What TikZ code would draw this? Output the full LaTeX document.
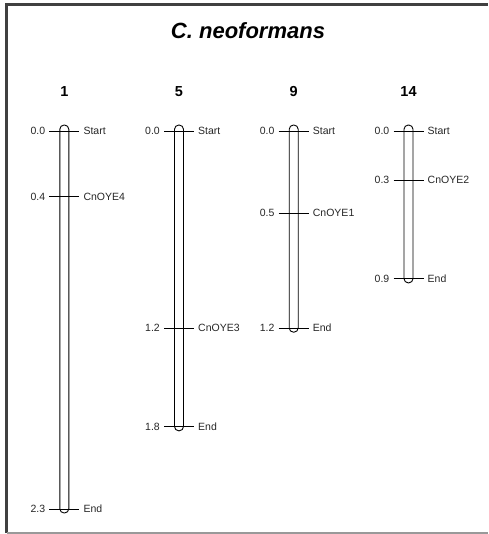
\documentclass[tikz,border=0pt]{standalone}
\usepackage{fontspec}
\setmainfont{Liberation Sans}
\begin{document}
\begin{tikzpicture}[x=1pt,y=-1pt,
  lbl/.style={inner sep=0pt,font=\fontsize{10.5}{12}\selectfont,text=black!85},
  hdr/.style={inner sep=0pt,font=\fontsize{14.5}{16}\selectfont\bfseries},
  bar/.style={draw=black,line width=0.9pt,rounded corners=4.3pt},
  tick/.style={draw=black,line width=0.9pt}]
\useasboundingbox (0,0) rectangle (488,534);
\draw[draw=black!75,line width=2.2pt] (6.5,533) -- (6.5,4.5) -- (488,4.5);
\draw[draw=black!40,line width=2pt] (6.5,532.5) -- (488,532.5);
\node[inner sep=0pt,font=\fontsize{22}{24}\selectfont\bfseries\itshape] (title) at (248,31) {C. neoformans};
% scale: 164.35 px per unit, 0 at y=131
\def\yy#1{131+164.35*#1}
\foreach \cx/\cn/\len/\endlab [count=\i] in {64.3/1/2.3/2.3, 179/5/1.8/1.8, 293.7/9/1.2/1.2, 408.5/14/0.9/0.9}{
  \node[hdr] (h\i) at (\cx,92) {\cn};
  \draw[bar] (\cx-4.5,125) rectangle (\cx+4.5,{\yy{\len}+4});
  \coordinate (s\i l) at (\cx-15,131);
  \coordinate (s\i r) at (\cx+15,131);
  \draw[tick] (s\i l) -- (s\i r);
  \node[lbl,anchor=east] (sp\i) at (\cx-19,131) {0.0};
  \node[lbl,anchor=west] (sn\i) at (\cx+19,131) {Start};
  \coordinate (e\i l) at (\cx-15,{\yy{\len}});
  \coordinate (e\i r) at (\cx+15,{\yy{\len}});
  \draw[tick] (e\i l) -- (e\i r);
  \node[lbl,anchor=east] (ep\i) at (\cx-19,{\yy{\len}}) {\endlab};
  \node[lbl,anchor=west] (en\i) at (\cx+19,{\yy{\len}}) {End};
}
\foreach \cx/\pos/\name [count=\i] in {64.3/0.4/CnOYE4, 179/1.2/CnOYE3, 293.7/0.5/CnOYE1, 408.5/0.3/CnOYE2}{
  \coordinate (m\i l) at (\cx-15,{\yy{\pos}});
  \coordinate (m\i r) at (\cx+15,{\yy{\pos}});
  \draw[tick] (m\i l) -- (m\i r);
  \node[lbl,anchor=east] (mp\i) at (\cx-19,{\yy{\pos}}) {\pos};
  \node[lbl,anchor=west] (mn\i) at (\cx+19,{\yy{\pos}}) {\name};
}
\end{tikzpicture}
\end{document}
